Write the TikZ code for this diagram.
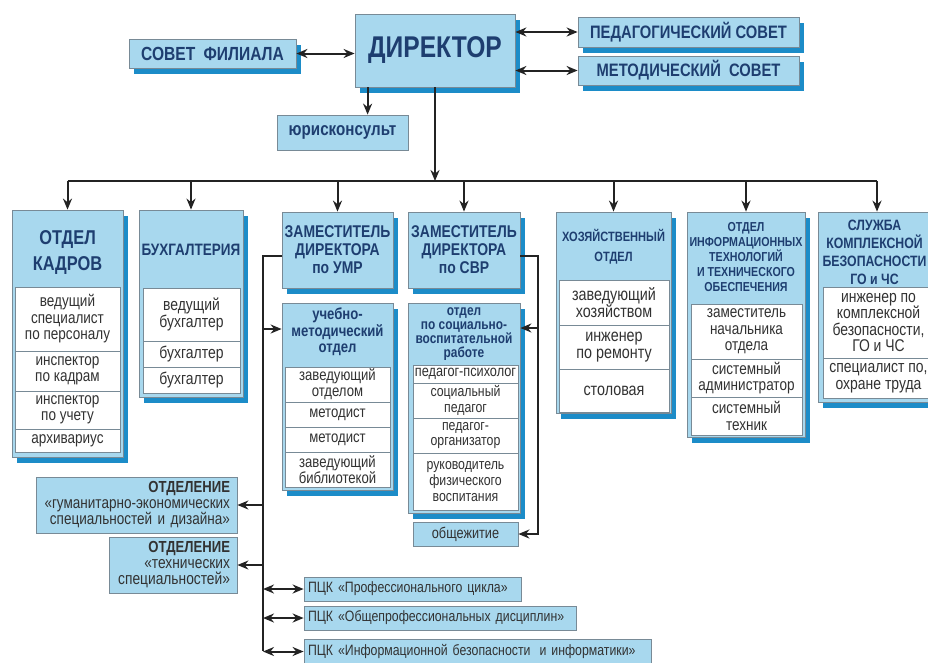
\documentclass[tikz,border=0pt]{standalone}
\usepackage{fontspec}
\setmainfont{Liberation Sans}[FakeStretch=0.82]
\usetikzlibrary{arrows.meta,shadows}
\definecolor{lb}{RGB}{168,216,238}
\definecolor{shb}{RGB}{28,140,200}
\definecolor{bd}{RGB}{120,138,150}
\definecolor{hd}{RGB}{30,62,112}
\definecolor{tx}{RGB}{50,50,50}
\definecolor{ln}{RGB}{35,35,35}
\newcommand\fs[2]{\fontsize{#1}{#2}\selectfont}
\newcommand\placebox[7]{\node[#6, minimum width={(#4)-(#2)}, minimum height={(#5)-(#3)}] (#1) at ({((#2)+(#4))/2},{((#3)+(#5))/2}) {#7};}
\begin{document}
\begin{tikzpicture}[x=1pt,y=-1pt,
  lbox/.style={draw=bd, fill=lb, line width=0.8pt, inner sep=0pt, align=center, text=hd},
  shbox/.style={lbox, general shadow={fill=shb, shadow xshift=5pt, shadow yshift=-6pt}},
  cell/.style={draw=bd, fill=white, line width=0.8pt, inner sep=0pt, align=center, text=tx, font=\fs{16.5}{16.5}},
  hdr/.style={inner sep=0pt, align=center, text=hd},
  con/.style={draw=ln, line width=2pt},
  arr/.style={con, -{Stealth[length=11pt,width=9pt]}},
  darr/.style={con, {Stealth[length=11pt,width=9pt]}-{Stealth[length=11pt,width=9pt]}}]
\fill[white] (0,0) rectangle (928,662);
\useasboundingbox (0,0) rectangle (928,662);

% top row
\placebox{dir}{355}{14}{515}{87}{shbox, font=\bfseries\fs{30}{30}}{ДИРЕКТОР}
\placebox{sovet}{129}{39}{296}{68}{shbox, font=\bfseries\fs{19}{19}}{СОВЕТ\hspace{4pt} ФИЛИАЛА}
\placebox{jur}{277}{115}{408}{150}{lbox, font=\bfseries\fs{18.5}{18.5}}{юрисконсульт}
\placebox{ped}{578}{17}{799}{47}{shbox, font=\bfseries\fs{18}{18}}{ПЕДАГОГИЧЕСКИЙ СОВЕТ}
\placebox{met}{578}{56}{799}{85}{shbox, font=\bfseries\fs{18}{18}}{МЕТОДИЧЕСКИЙ\hspace{4pt} СОВЕТ}

% departments
\placebox{kadry}{12}{210}{123}{457}{shbox}{}
\node[hdr, font=\bfseries\fs{20}{26}] (kadryH) at (67.5,253) {ОТДЕЛ\\КАДРОВ};
\placebox{k1}{15}{287}{120}{351}{cell}{ведущий\\специалист\\по персоналу}
\placebox{k2}{15}{351}{120}{391}{cell}{инспектор\\по кадрам}
\placebox{k3}{15}{391}{120}{429}{cell}{инспектор\\по учету}
\placebox{k4}{15}{429}{120}{452}{cell}{архивариус}

\placebox{buh}{139}{210}{243}{397}{shbox}{}
\node[hdr, font=\bfseries\fs{16.5}{17}] (buhH) at (191,250) {БУХГАЛТЕРИЯ};
\placebox{b1}{143}{288}{240}{341}{cell, font=\fs{17}{17}}{ведущий\\бухгалтер}
\placebox{b2}{143}{341}{240}{367}{cell, font=\fs{17}{17}}{бухгалтер}
\placebox{b3}{143}{367}{240}{393}{cell, font=\fs{17}{17}}{бухгалтер}

\placebox{umr}{282}{212}{393}{288}{shbox, font=\bfseries\fs{17}{18}}{ЗАМЕСТИТЕЛЬ\\ДИРЕКТОРА\\по УМР}
\placebox{svr}{408}{212}{520}{288}{shbox, font=\bfseries\fs{17}{18}}{ЗАМЕСТИТЕЛЬ\\ДИРЕКТОРА\\по СВР}

\placebox{umo}{282}{303}{393}{490}{shbox}{}
\node[hdr, font=\bfseries\fs{16}{16.5}] (umoH) at (337.5,332) {учебно-\\методический\\отдел};
\placebox{u1}{285}{367}{390}{402}{cell, font=\fs{16}{16}}{заведующий\\отделом}
\placebox{u2}{285}{402}{390}{427}{cell, font=\fs{16}{16}}{методист}
\placebox{u3}{285}{427}{390}{452}{cell, font=\fs{16}{16}}{методист}
\placebox{u4}{285}{452}{390}{487}{cell, font=\fs{16}{16}}{заведующий\\библиотекой}

\placebox{svo}{408}{303}{520}{513}{shbox}{}
\node[hdr, font=\bfseries\fs{14.5}{14.2}] (svoH) at (464,334) {отдел\\по социально-\\воспитательной\\работе};
\placebox{s1}{413}{365}{518}{383}{cell, font=\fs{15.5}{15.5}}{педагог-психолог}
\placebox{s2}{413}{383}{518}{418}{cell, font=\fs{15}{15.5}}{социальный\\педагог}
\placebox{s3}{413}{418}{518}{453}{cell, font=\fs{15}{15.5}}{педагог-\\организатор}
\placebox{s4}{413}{453}{518}{510}{cell, font=\fs{15}{16}}{руководитель\\физического\\воспитания}
\placebox{obsh}{413}{522}{518}{546}{lbox, text=tx, font=\fs{15.5}{15.5}}{общежитие}

\placebox{hoz}{556}{212}{671}{413}{shbox}{}
\node[hdr, font=\bfseries\fs{13.5}{20}] (hozH) at (613.5,247) {ХОЗЯЙСТВЕННЫЙ\\ОТДЕЛ};
\placebox{h1}{559}{280}{669}{325}{cell, font=\fs{17.5}{17}}{заведующий\\хозяйством}
\placebox{h2}{559}{325}{669}{369}{cell, font=\fs{17.5}{17}}{инженер\\по ремонту}
\placebox{h3}{559}{369}{669}{412}{cell, font=\fs{17.5}{17}}{столовая}

\placebox{it}{687}{212}{805}{437}{shbox}{}
\node[hdr, font=\bfseries\fs{13}{15}] (itH) at (746,257) {ОТДЕЛ\\ИНФОРМАЦИОННЫХ\\ТЕХНОЛОГИЙ\\И ТЕХНИЧЕСКОГО\\ОБЕСПЕЧЕНИЯ};
\placebox{i1}{691}{304}{802}{359}{cell}{заместитель\\начальника\\отдела}
\placebox{i2}{691}{359}{802}{397}{cell}{системный\\администратор}
\placebox{i3}{691}{397}{802}{435}{cell}{системный\\техник}

\placebox{slu}{818}{212}{936}{402}{shbox}{}
\node[hdr, font=\bfseries\fs{15}{18}] (sluH) at (874.5,252) {СЛУЖБА\\КОМПЛЕКСНОЙ\\БЕЗОПАСНОСТИ\\ГО и ЧС};
\placebox{c1}{823}{287}{934}{358}{cell, font=\fs{17}{16.5}}{инженер по\\комплексной\\безопасности,\\ГО и ЧС}
\placebox{c2}{823}{358}{934}{398}{cell, font=\fs{17}{16.5}}{специалист по,\\охране труда}

% departments under УМР
\placebox{otd1}{36}{477}{237}{533}{lbox, text=tx, align=right, text width=187pt, font=\fs{16.5}{16}}{{\bfseries\fs{16}{16}ОТДЕЛЕНИЕ}\\«гуманитарно-экономических\\специальностей и дизайна»}
\placebox{otd2}{109}{537}{237}{593}{lbox, text=tx, align=right, text width=114pt, font=\fs{16.8}{16}}{{\bfseries\fs{16}{16}ОТДЕЛЕНИЕ}\\«технических\\специальностей»}
\placebox{p1}{304}{577}{521}{601}{lbox, text=tx, align=left, text width=209pt, font=\fs{15}{15}}{ПЦК «Профессионального цикла»}
\placebox{p2}{304}{606}{576}{630}{lbox, text=tx, align=left, text width=264pt, font=\fs{15}{15}}{ПЦК «Общепрофессиональных дисциплин»}
\placebox{p3}{304}{639}{651}{664}{lbox, text=tx, align=left, text width=339pt, font=\fs{15}{15}}{ПЦК «Информационной безопасности\hspace{4pt} и информатики»}

% connectors top
\draw[darr] (sovet.east) -- (sovet.east -| dir.west);
\draw[darr] (ped.west -| dir.east) -- (ped.west);
\draw[darr] (met.west -| dir.east) -- (met.west);
\draw[arr] ([xshift=13pt]dir.south west) -- ([xshift=13pt]dir.south west |- jur.north);
\coordinate (bus) at (435,181);
\draw[arr] (dir.south) -- (bus);
\draw[con] (kadry.north |- bus) -- (slu.north |- bus);
\foreach \b in {kadry,buh,umr,svr,hoz,it,slu}
  \draw[arr] (\b.north |- bus) -- (\b.north);

% left line (УМР)
\coordinate (lbot) at (263,651);
\coordinate (la) at (263,329);
\draw[con] ([yshift=-6pt]umr.west) -| (lbot);
\draw[arr] (la) -- (la -| umo.west);
\draw[arr] (otd1.east -| lbot) -- (otd1.east);
\draw[arr] (otd2.east -| lbot) -- (otd2.east);
\draw[darr] (p1.west -| lbot) -- (p1.west);
\draw[darr] (p2.west -| lbot) -- (p2.west);
\draw[darr] (p3.west -| lbot) -- (p3.west);

% right line (СВР)
\coordinate (rbot) at (538,534);
\coordinate (ra) at (538,328);
\draw[arr] ([yshift=-6pt]svr.east) -| (rbot) -- (obsh.east);
\draw[arr] (ra) -- (ra -| svo.east);
\end{tikzpicture}
\end{document}
